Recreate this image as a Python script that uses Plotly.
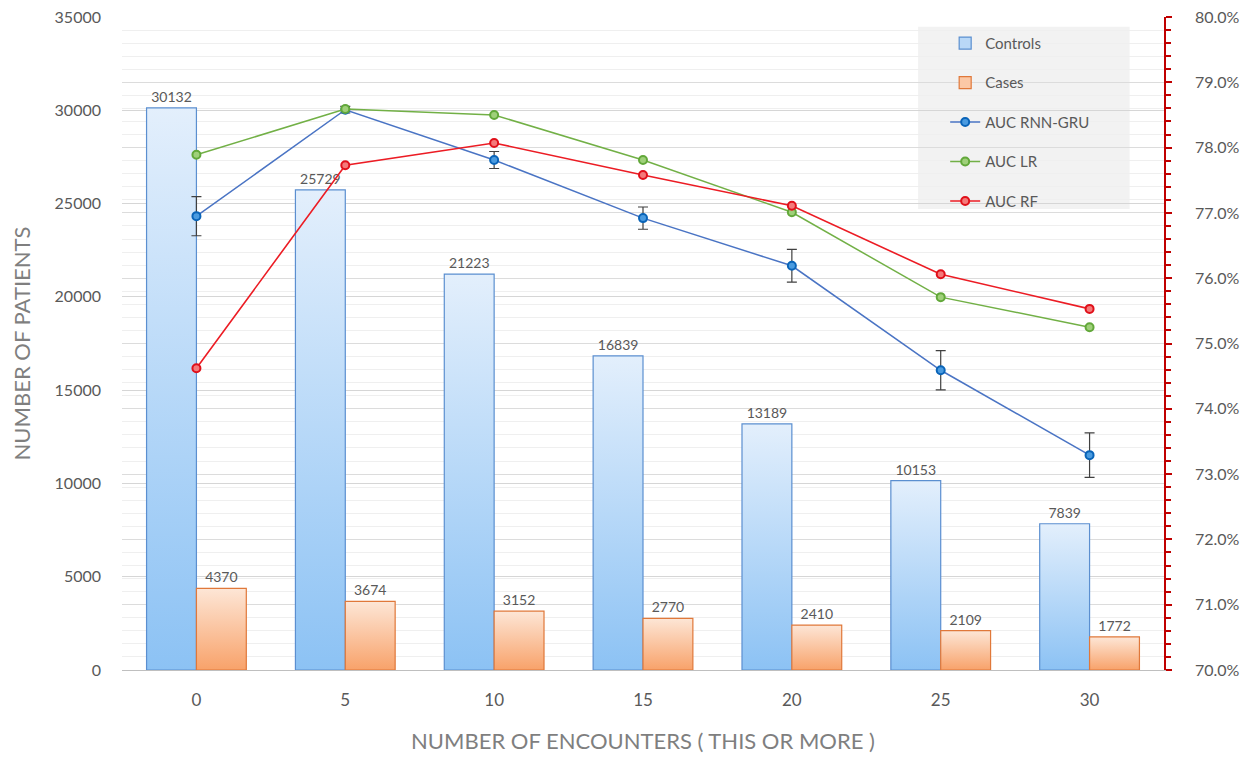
import plotly.graph_objects as go

categories = ["0", "5", "10", "15", "20", "25", "30"]
controls = [30132, 25729, 21223, 16839, 13189, 10153, 7839]
cases = [4370, 3674, 3152, 2770, 2410, 2109, 1772]
auc_rnn = [76.95, 78.58, 77.81, 76.92, 76.19, 74.59, 73.29]
auc_rnn_err = [0.30, 0.05, 0.13, 0.17, 0.25, 0.30, 0.34]
auc_lr = [77.89, 78.59, 78.50, 77.81, 77.01, 75.71, 75.25]
auc_rf = [74.62, 77.73, 78.07, 77.58, 77.11, 76.06, 75.53]

FONT = "Lato"
GRAY = "#595959"

fig = go.Figure()
fig.add_trace(go.Bar(
    x=categories, y=controls, name="Controls", legendgroup="a",
    marker=dict(color="#b9d8f7", line=dict(color="#5b8fd0", width=1.2)),
    text=[str(v) for v in controls], textposition="outside",
    textfont=dict(size=14, color=GRAY, family=FONT), cliponaxis=False,
))
fig.add_trace(go.Bar(
    x=categories, y=cases, name="Cases", legendgroup="b",
    marker=dict(color="#fbc8a6", line=dict(color="#e0783a", width=1.2)),
    text=[str(v) for v in cases], textposition="outside",
    textfont=dict(size=14, color=GRAY, family=FONT), cliponaxis=False,
))
fig.add_trace(go.Scatter(
    x=categories, y=auc_rnn, name="AUC RNN-GRU", legendgroup="c", yaxis="y2",
    mode="lines+markers",
    line=dict(color="#4a74c4", width=1.5),
    marker=dict(size=8, color="#4a9be0", line=dict(color="#0a64b8", width=2)),
    error_y=dict(type="data", array=auc_rnn_err, color="#404040", thickness=1.2, width=5),
))
fig.add_trace(go.Scatter(
    x=categories, y=auc_lr, name="AUC LR", legendgroup="d", yaxis="y2",
    mode="lines+markers",
    line=dict(color="#72b046", width=1.5),
    marker=dict(size=8, color="#9fd07a", line=dict(color="#62a83a", width=2)),
))
fig.add_trace(go.Scatter(
    x=categories, y=auc_rf, name="AUC RF", legendgroup="e", yaxis="y2",
    mode="lines+markers",
    line=dict(color="#ec1c24", width=1.6),
    marker=dict(size=8, color="#f47a7a", line=dict(color="#e0101a", width=2)),
))

fig.update_layout(
    width=1250, height=757,
    margin=dict(l=114, r=94, t=9, b=95),
    paper_bgcolor="white", plot_bgcolor="white",
    font=dict(family=FONT, color=GRAY, size=16),
    barmode="group", bargap=0.33, bargroupgap=0,
    showlegend=True,
    legend=dict(x=0.79, y=0.985, xanchor="left", yanchor="top",
                bgcolor="rgba(0,0,0,0)", tracegroupgap=17,
                font=dict(size=15, color=GRAY, family=FONT)),
    xaxis=dict(type="category", showgrid=False, showline=True, linecolor="#bfbfbf",
               linewidth=1, ticks="", tickfont=dict(size=17, color=GRAY),
               automargin=False, ticklabelstandoff=15,
               title=dict(text="NUMBER OF ENCOUNTERS ( THIS OR MORE )",
                          font=dict(size=22, color="#7f7f7f"), standoff=24)),
    yaxis=dict(range=[0, 35000], dtick=5000, tickformat="d", showgrid=True,
               gridcolor="#d6d6d6", automargin=False, ticklabelstandoff=20,
               ticklabeloverflow="allow",
               zeroline=False, showline=False, ticks="",
               tickfont=dict(size=16, color=GRAY),
               title=dict(text="NUMBER OF PATIENTS", font=dict(size=22, color="#7f7f7f"),
                          standoff=28)),
    yaxis2=dict(overlaying="y", side="right", range=[70, 80], dtick=1,
                tickformat=".1f", ticksuffix="%", showgrid=True, gridcolor="#dcdcdc",
                zeroline=False, showline=True, linecolor="#c00000", linewidth=1.5,
                ticks="outside", tickcolor="#c00000", ticklen=6, tickwidth=1.5,
                automargin=False, ticklabelstandoff=20, ticklabeloverflow="allow",
                tickfont=dict(size=16, color=GRAY),
                minor=dict(dtick=0.2, ticks="outside", ticklen=5, tickcolor="#c00000",
                           showgrid=True, gridcolor="#efefef")),
    shapes=[dict(type="rect", xref="paper", yref="paper", x0=0.764, x1=0.967,
                 y0=0.706, y1=0.985, fillcolor="#f2f2f2", line=dict(width=0),
                 layer="below")],
)

post = """
var gd = document.getElementById('{plot_id}');
function addGrad(defs, id, c1, c2){
  if (defs.querySelector('#'+id)) return;
  var ns='http://www.w3.org/2000/svg';
  var g=document.createElementNS(ns,'linearGradient');
  g.setAttribute('id',id); g.setAttribute('x1','0'); g.setAttribute('y1','0');
  g.setAttribute('x2','0'); g.setAttribute('y2','1');
  var s1=document.createElementNS(ns,'stop'); s1.setAttribute('offset','0'); s1.setAttribute('stop-color',c1);
  var s2=document.createElementNS(ns,'stop'); s2.setAttribute('offset','1'); s2.setAttribute('stop-color',c2);
  g.appendChild(s1); g.appendChild(s2); defs.appendChild(g);
}
function applyGrad(){
  var svg = gd.querySelector('svg.main-svg');
  if(!svg) return;
  var defs = svg.querySelector('defs');
  addGrad(defs,'gBlue','#e3effc','#8cc2f4');
  addGrad(defs,'gOrange','#fde6d6','#f8a26a');
  var traces = gd.querySelectorAll('.barlayer .trace');
  var ids=['gBlue','gOrange'];
  traces.forEach(function(t,i){
    t.querySelectorAll('path').forEach(function(p){ p.style.fill='url(#'+ids[i]+')'; });
  });
}
applyGrad();
"""
fig.write_html("out.html", post_script=post)
